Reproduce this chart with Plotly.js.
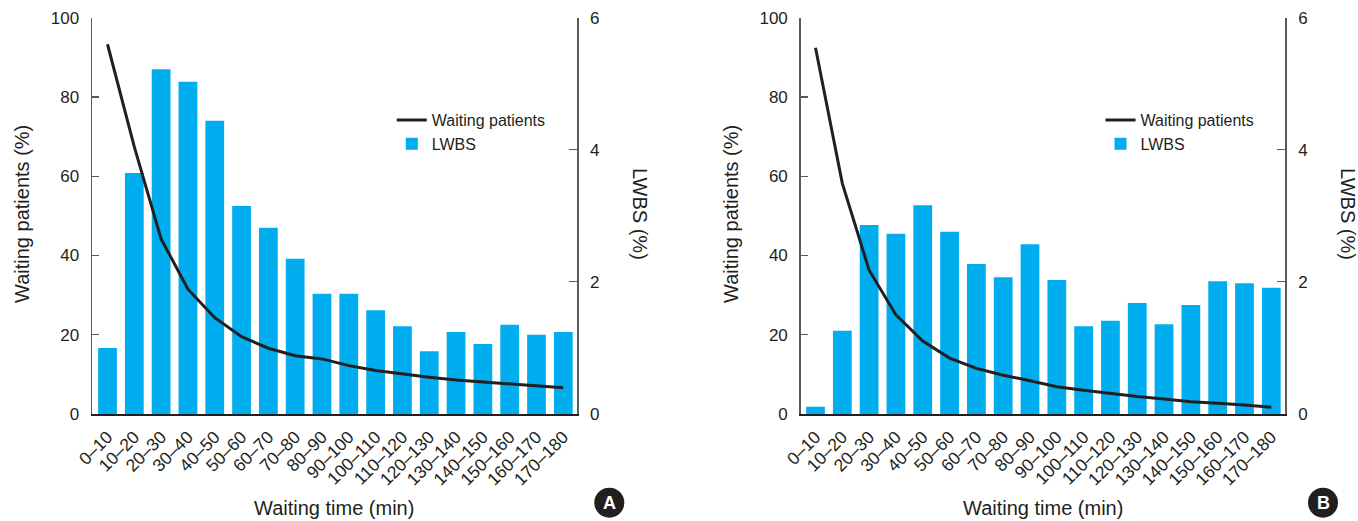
<!DOCTYPE html>
<html>
<head>
<meta charset="utf-8">
<script src="https://cdn.plot.ly/plotly-3.0.1.min.js"></script>
<style>html,body{margin:0;padding:0;background:#fff;}#chart{width:1358px;height:521px;}</style>
</head>
<body>
<div id="chart"></div>
<script>
// Categories (waiting time bins, min)
const categories = ['0–10','10–20','20–30','30–40','40–50','50–60','60–70','70–80','80–90','90–100','100–110','110–120','120–130','130–140','140–150','150–160','160–170','170–180'];

// Panel A
const waitingA = [93.3,67.4,44.2,31.5,24.3,19.5,16.6,14.7,13.9,12.2,11.0,10.1,9.3,8.6,8.1,7.6,7.1,6.6];
const lwbsA = [1.00,3.65,5.22,5.03,4.44,3.15,2.82,2.35,1.82,1.82,1.57,1.33,0.95,1.24,1.06,1.35,1.20,1.24];

// Panel B
const waitingB = [92.4,58.2,36.3,25.0,18.4,14.1,11.5,9.8,8.4,6.9,6.0,5.2,4.4,3.8,3.1,2.7,2.3,1.7];
const lwbsB = [0.11,1.26,2.86,2.73,3.16,2.76,2.27,2.07,2.57,2.03,1.33,1.41,1.68,1.36,1.65,2.01,1.98,1.91];

const leftTicks = [0,20,40,60,80,100];
const rightTicks = [0,2,4,6];

const FONT = 'Liberation Sans, Arial, sans-serif';
const TXT = '#231f20';
const LINE = '#231f20';
const BAR = '#00aeef';
const AXC = '#5a5a5a';

const data = [
  {x: categories, y: waitingA, xaxis: 'x', yaxis: 'y2', type: 'scatter', mode: 'lines',
   line: {color: LINE, width: 3}, name: 'Waiting patients', legend: 'legend'},
  {x: categories, y: lwbsA, xaxis: 'x', yaxis: 'y', type: 'bar',
   marker: {color: BAR}, name: 'LWBS', legend: 'legend'},
  {x: categories, y: waitingB, xaxis: 'x2', yaxis: 'y4', type: 'scatter', mode: 'lines',
   line: {color: LINE, width: 3}, name: 'Waiting patients', legend: 'legend2'},
  {x: categories, y: lwbsB, xaxis: 'x2', yaxis: 'y3', type: 'bar',
   marker: {color: BAR}, name: 'LWBS', legend: 'legend2'}
];

const yDom = [0.20537, 0.96603];

function xAxis(domain, anchor, range) {
  return {domain: domain, anchor: anchor, range: range, type: 'category',
    showline: true, linecolor: LINE, linewidth: 2, ticks: '', tickangle: -45,
    tickfont: {size: 17.5, color: TXT}, ticklabelstandoff: 4, showgrid: false, zeroline: false, automargin: false};
}
function lwbsAxis(anchor) {
  return {domain: yDom, anchor: anchor, side: 'right', range: [0, 6], tickvals: rightTicks,
    ticks: 'inside', ticklen: 8, tickcolor: AXC, tickwidth: 1.2, showline: true, linecolor: AXC, linewidth: 1.5,
    showgrid: false, zeroline: false, tickfont: {size: 17, color: TXT}, ticklabelstandoff: 8, automargin: false};
}
function waitAxis(anchor, over) {
  return {overlaying: over, anchor: anchor, side: 'left', range: [0, 100], tickvals: leftTicks,
    ticks: 'inside', ticklen: 7, tickcolor: AXC, tickwidth: 1.2, showline: true, linecolor: AXC, linewidth: 1.5,
    showgrid: false, zeroline: false, tickfont: {size: 17, color: TXT}, ticklabelstandoff: 8, automargin: false};
}

const legendBase = {xanchor: 'left', yanchor: 'top', bgcolor: 'rgba(0,0,0,0)',
  font: {size: 16, color: TXT}, tracegroupgap: 0, itemwidth: 30};

function ann(text, x, y, angle, size) {
  return {text: text, x: x, y: y, xref: 'paper', yref: 'paper', showarrow: false,
    textangle: angle, font: {size: size, color: TXT}, xanchor: 'center', yanchor: 'middle'};
}

const layout = {
  width: 1358, height: 521,
  margin: {l: 0, r: 0, t: 0, b: 0},
  paper_bgcolor: '#fff', plot_bgcolor: 'rgba(0,0,0,0)',
  font: {family: FONT, color: TXT},
  bargap: 0.3,
  showlegend: true,
  xaxis: xAxis([0.06775, 0.42489], 'y', [-0.578, 17.511]),
  yaxis: lwbsAxis('x'),
  yaxis2: waitAxis('x', 'y'),
  xaxis2: xAxis([0.58962, 0.94647], 'y3', [-0.552, 17.522]),
  yaxis3: lwbsAxis('x2'),
  yaxis4: waitAxis('x2', 'y3'),
  legend: Object.assign({x: 0.2885, y: 0.802}, legendBase),
  legend2: Object.assign({x: 0.2885 + 0.5219, y: 0.802}, legendBase),
  annotations: [
    ann('Waiting patients (%)', 0.0162, 0.5893, -90, 20),
    ann('LWBS (%)', 0.4713, 0.5893, 90, 20),
    ann('Waiting time (min)', 0.2463, 0.025, 0, 20),
    ann('Waiting patients (%)', 0.5383, 0.5893, -90, 20),
    ann('LWBS (%)', 0.9926, 0.5893, 90, 20),
    ann('Waiting time (min)', 0.768, 0.025, 0, 20),
    {text: '<b>A</b>', x: 0.44867, y: 0.03513, xref: 'paper', yref: 'paper', showarrow: false,
     font: {size: 18, color: '#fff'}, xanchor: 'center', yanchor: 'middle'},
    {text: '<b>B</b>', x: 0.97423, y: 0.03513, xref: 'paper', yref: 'paper', showarrow: false,
     font: {size: 18, color: '#fff'}, xanchor: 'center', yanchor: 'middle'}
  ],
  shapes: [
    {type: 'circle', xref: 'paper', yref: 'paper', x0: 0.43763, x1: 0.45972, y0: 0.00633, y1: 0.06392,
     fillcolor: LINE, line: {width: 0}, layer: 'below'},
    {type: 'circle', xref: 'paper', yref: 'paper', x0: 0.96318, x1: 0.98527, y0: 0.00633, y1: 0.06392,
     fillcolor: LINE, line: {width: 0}, layer: 'below'}
  ]
};

Plotly.newPlot('chart', data, layout, {displayModeBar: false, staticPlot: true});
</script>
</body>
</html>
